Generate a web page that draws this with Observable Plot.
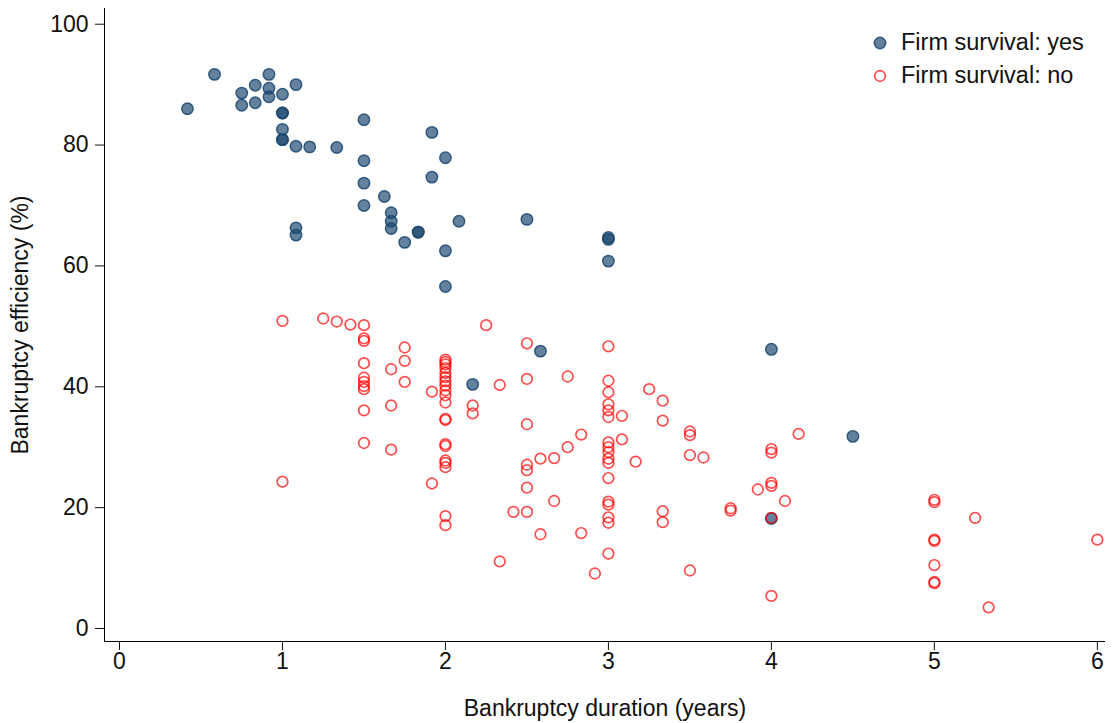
<!DOCTYPE html>
<html>
<head>
<meta charset="utf-8">
<script src="https://cdn.jsdelivr.net/npm/d3@7"></script>
<script src="https://cdn.jsdelivr.net/npm/@observablehq/plot@0.6"></script>
<style>
  html, body { margin: 0; padding: 0; background: #fff; }
  #wrap { position: relative; width: 1114px; height: 723px; font-family: "Liberation Sans", Arial, sans-serif; }
  #legend { position: absolute; left: 872px; top: 26px; font-size: 23.5px; color: #111; line-height: 33px; }
  #legend div { display: flex; align-items: center; }
  #legend svg { margin-right: 13px; }
</style>
</head>
<body>
<div id="wrap"><div id="legend"></div></div>
<script>
// Firm survival: yes
const yesDuration = [0.417, 0.583, 0.75, 0.75, 0.833, 0.833, 0.917, 0.917, 0.917,
  1.0, 1.0, 1.0, 1.0, 1.0, 1.0, 1.083, 1.083, 1.083, 1.083, 1.167, 1.333,
  1.5, 1.5, 1.5, 1.5, 1.625, 1.667, 1.667, 1.667, 1.75, 1.833, 1.833, 1.917, 1.917,
  2.0, 2.0, 2.0, 2.083, 2.167, 2.5, 2.583, 3.0, 3.0, 3.0, 4.0, 4.0, 4.5];
const yesEfficiency = [86.0, 91.7, 88.6, 86.6, 89.9, 87.0, 91.7, 89.4, 88.0,
  88.4, 85.3, 85.3, 82.6, 80.9, 80.9, 90.0, 79.8, 66.3, 65.1, 79.7, 79.6,
  84.2, 77.4, 73.7, 70.0, 71.5, 68.8, 67.4, 66.2, 63.9, 65.6, 65.6, 82.1, 74.7,
  77.9, 62.5, 56.6, 67.4, 40.4, 67.7, 45.9, 64.7, 64.4, 60.8, 46.2, 18.2, 31.8];

// Firm survival: no
const noDuration = [1.0, 1.0, 1.25, 1.333, 1.417,
  1.5, 1.5, 1.5, 1.5, 1.5, 1.5, 1.5, 1.5, 1.5, 1.5,
  1.667, 1.667, 1.667, 1.75, 1.75, 1.75, 1.917, 1.917,
  2.0, 2.0, 2.0, 2.0, 2.0, 2.0, 2.0, 2.0, 2.0, 2.0, 2.0, 2.0, 2.0, 2.0, 2.0, 2.0, 2.0, 2.0, 2.0, 2.0,
  2.167, 2.167, 2.25, 2.333, 2.333, 2.417,
  2.5, 2.5, 2.5, 2.5, 2.5, 2.5, 2.5, 2.583, 2.583, 2.667, 2.667, 2.75, 2.75, 2.833, 2.833, 2.917,
  3.0, 3.0, 3.0, 3.0, 3.0, 3.0, 3.0, 3.0, 3.0, 3.0, 3.0, 3.0, 3.0, 3.0, 3.0, 3.0, 3.0,
  3.083, 3.083, 3.167, 3.25, 3.333, 3.333, 3.333, 3.333,
  3.5, 3.5, 3.5, 3.5, 3.583, 3.75, 3.75, 3.917,
  4.0, 4.0, 4.0, 4.0, 4.0, 4.0, 4.083, 4.167,
  5.0, 5.0, 5.0, 5.0, 5.0, 5.0, 5.0, 5.25, 5.333, 6.0];
const noEfficiency = [50.9, 24.3, 51.3, 50.8, 50.3,
  50.2, 48.0, 47.6, 43.9, 41.5, 40.8, 40.1, 39.6, 36.1, 30.7,
  42.9, 36.9, 29.6, 46.5, 44.3, 40.8, 39.2, 24.0,
  44.5, 44.1, 43.7, 43.1, 42.3, 41.6, 40.9, 40.2, 39.4, 38.6, 37.4, 34.7, 34.5, 30.5, 30.2, 27.8, 27.4, 26.7, 18.6, 17.1,
  36.9, 35.6, 50.2, 40.3, 11.1, 19.3,
  47.2, 41.3, 33.8, 27.1, 26.2, 23.3, 19.3, 28.1, 15.6, 28.2, 21.1, 41.7, 30.0, 32.1, 15.8, 9.1,
  46.7, 41.0, 39.1, 37.1, 36.1, 35.0, 30.8, 30.0, 29.2, 28.1, 27.4, 24.9, 21.0, 20.5, 18.4, 17.5, 12.4,
  35.2, 31.3, 27.6, 39.6, 37.7, 34.4, 19.4, 17.6,
  32.6, 32.0, 28.7, 9.6, 28.3, 19.9, 19.5, 23.0,
  29.7, 29.1, 24.1, 23.6, 18.3, 5.4, 21.1, 32.2,
  21.3, 20.9, 14.7, 14.5, 10.5, 7.7, 7.5, 18.3, 3.5, 14.7];

const xTicks = [0, 1, 2, 3, 4, 5, 6];
const yTicks = [0, 20, 40, 60, 80, 100];
const seriesLabels = ["Firm survival: yes", "Firm survival: no"];

const xDomain = [-0.092, 6.05];
const yDomain = [-2.15, 102.6];

const yesData = yesDuration.map((d, i) => ({duration: d, efficiency: yesEfficiency[i]}));
const noData = noDuration.map((d, i) => ({duration: d, efficiency: noEfficiency[i]}));

const navy = "#1a476f";
const red = "#ff0000";

const chart = Plot.plot({
  width: 1114,
  height: 723,
  marginLeft: 104,
  marginRight: 9,
  marginTop: 8,
  marginBottom: 82,
  style: {fontSize: "23px", fontFamily: "'Liberation Sans', Arial, sans-serif", color: "#111", background: "#fff"},
  x: {domain: xDomain},
  y: {domain: yDomain},
  marks: [
    Plot.axisX({ticks: xTicks, tickSize: 9, tickPadding: 2, tickFormat: d3.format("d"),
      label: "Bankruptcy duration (years)", labelAnchor: "center", labelArrow: "none", labelOffset: 74,
      fontSize: 23}),
    Plot.axisY({ticks: yTicks, tickSize: 9, tickPadding: 7, tickFormat: d3.format("d"),
      label: "Bankruptcy efficiency (%)", labelAnchor: "center", labelArrow: "none", labelOffset: 93}),
    Plot.ruleX([xDomain[0]], {stroke: "#000", strokeWidth: 1}),
    Plot.ruleY([yDomain[0]], {stroke: "#000", strokeWidth: 1}),
    Plot.dot(yesData, {x: "duration", y: "efficiency", r: 5.7, fill: navy, fillOpacity: 0.68,
      stroke: navy, strokeOpacity: 0.85, strokeWidth: 1.5}),
    Plot.dot(noData, {x: "duration", y: "efficiency", r: 5.3, fill: "none",
      stroke: red, strokeOpacity: 0.7, strokeWidth: 1.7})
  ]
});

const wrap = document.getElementById("wrap");
wrap.insertBefore(chart, wrap.firstChild);

const legend = document.getElementById("legend");
const swatches = [
  `<svg width="16" height="16"><circle cx="8" cy="8" r="5.7" fill="${navy}" fill-opacity="0.68" stroke="${navy}" stroke-opacity="0.85" stroke-width="1.5"/></svg>`,
  `<svg width="16" height="16"><circle cx="8" cy="8" r="5.3" fill="none" stroke="${red}" stroke-opacity="0.7" stroke-width="1.7"/></svg>`
];
seriesLabels.forEach((lab, i) => {
  const row = document.createElement("div");
  row.innerHTML = swatches[i] + `<span>${lab}</span>`;
  legend.appendChild(row);
});
</script>
</body>
</html>
